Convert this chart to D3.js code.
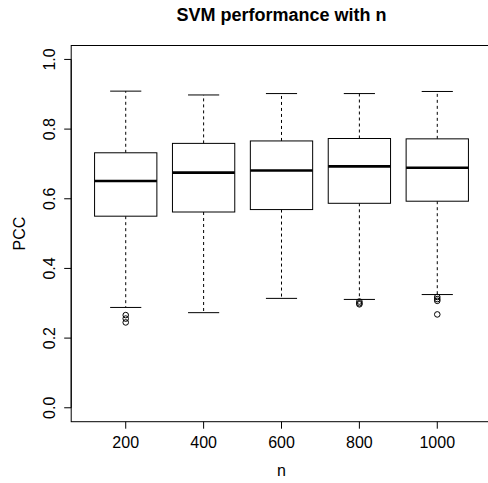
<!DOCTYPE html>
<html>
<head>
<meta charset="utf-8">
<script src="https://cdn.jsdelivr.net/npm/d3@7"></script>
<style>
  body { margin: 0; background: #fff; }
  text { font-family: "Liberation Sans", Arial, sans-serif; fill: #000; }
</style>
</head>
<body>
<script>
// box stats
const groups = ['200', '400', '600', '800', '1000']
const lowerWhisker = [0.288, 0.273, 0.314, 0.311, 0.325]
const q1 = [0.550, 0.562, 0.569, 0.587, 0.593]
const median = [0.651, 0.675, 0.681, 0.693, 0.689]
const q3 = [0.732, 0.759, 0.766, 0.773, 0.772]
const upperWhisker = [0.909, 0.898, 0.902, 0.902, 0.908]
const outliers = [
    [0.266, 0.256, 0.245],
    [],
    [],
    [0.305, 0.300, 0.297],
    [0.318, 0.312, 0.307, 0.268]
]
const yTicks = [0, 0.2, 0.4, 0.6, 0.8, 1.0]

const width = 488
const height = 483

const svg = d3.select('body').append('svg')
    .attr('width', width)
    .attr('height', height)

const x = d3.scaleLinear()
    .domain([0.3, 5.7])
    .range([71.2, 491.8])

const y = d3.scaleLinear()
    .domain([-0.04, 1.04])
    .range([421.7, 45.5])

const unit = x(2) - x(1)
const boxHalf = unit * 0.4
const stapleHalf = boxHalf * 0.5

const data = groups.map((g, i) => ({
    g, i: i + 1,
    lo: lowerWhisker[i], q1: q1[i], med: median[i], q3: q3[i], hi: upperWhisker[i],
    out: outliers[i]
}))

const box = svg.selectAll('.box')
    .data(data)
    .enter().append('g')
    .attr('class', 'box')

// whiskers (dashed)
box.append('line')
    .attr('x1', d => x(d.i)).attr('x2', d => x(d.i))
    .attr('y1', d => y(d.q3)).attr('y2', d => y(d.hi))
    .style('stroke', '#000').style('stroke-dasharray', '3,3')
box.append('line')
    .attr('x1', d => x(d.i)).attr('x2', d => x(d.i))
    .attr('y1', d => y(d.q1)).attr('y2', d => y(d.lo))
    .style('stroke', '#000').style('stroke-dasharray', '3,3')

// staples
box.append('line')
    .attr('x1', d => x(d.i) - stapleHalf).attr('x2', d => x(d.i) + stapleHalf)
    .attr('y1', d => y(d.hi)).attr('y2', d => y(d.hi))
    .style('stroke', '#000')
box.append('line')
    .attr('x1', d => x(d.i) - stapleHalf).attr('x2', d => x(d.i) + stapleHalf)
    .attr('y1', d => y(d.lo)).attr('y2', d => y(d.lo))
    .style('stroke', '#000')

// box
box.append('rect')
    .attr('x', d => x(d.i) - boxHalf)
    .attr('width', boxHalf * 2)
    .attr('y', d => y(d.q3))
    .attr('height', d => y(d.q1) - y(d.q3))
    .style('fill', '#fff')
    .style('stroke', '#000')

// median
box.append('line')
    .attr('x1', d => x(d.i) - boxHalf).attr('x2', d => x(d.i) + boxHalf)
    .attr('y1', d => y(d.med)).attr('y2', d => y(d.med))
    .style('stroke', '#000').style('stroke-width', 2.6)

// outliers
box.selectAll('.out')
    .data(d => d.out.map(v => ({ i: d.i, v })))
    .enter().append('circle')
    .attr('class', 'out')
    .attr('cx', d => x(d.i))
    .attr('cy', d => y(d.v))
    .attr('r', 2.8)
    .style('fill', 'none')
    .style('stroke', '#000')

// frame
svg.append('rect')
    .attr('x', x.range()[0])
    .attr('y', y.range()[1])
    .attr('width', x.range()[1] - x.range()[0])
    .attr('height', y.range()[0] - y.range()[1])
    .style('fill', 'none')
    .style('stroke', '#000')

// x axis
const xAxis = svg.append('g')
    .attr('transform', `translate(0, ${y.range()[0]})`)
xAxis.selectAll('line')
    .data(data)
    .enter().append('line')
    .attr('x1', d => x(d.i)).attr('x2', d => x(d.i))
    .attr('y1', 0).attr('y2', 7)
    .style('stroke', '#000')
xAxis.selectAll('text')
    .data(data)
    .enter().append('text')
    .attr('x', d => x(d.i))
    .attr('y', 26)
    .style('text-anchor', 'middle')
    .style('font-size', '16px')
    .text(d => d.g)

// y axis
const yAxis = svg.append('g')
    .attr('transform', `translate(${x.range()[0]}, 0)`)
yAxis.append('line')
    .attr('x1', 0).attr('x2', 0)
    .attr('y1', y(0)).attr('y2', y(1))
    .style('stroke', '#000')
yAxis.selectAll('.tick')
    .data(yTicks)
    .enter().append('line')
    .attr('class', 'tick')
    .attr('x1', 0).attr('x2', -7)
    .attr('y1', d => y(d)).attr('y2', d => y(d))
    .style('stroke', '#000')
yAxis.selectAll('text')
    .data(yTicks)
    .enter().append('text')
    .attr('transform', d => `translate(-16, ${y(d)}) rotate(-90)`)
    .style('text-anchor', 'middle')
    .style('font-size', '16px')
    .text(d => d3.format('.1f')(d))

// labels
svg.append('text')
    .attr('x', (x.range()[0] + x.range()[1]) / 2)
    .attr('y', 476)
    .style('text-anchor', 'middle')
    .style('font-size', '16px')
    .text('n')

svg.append('text')
    .attr('transform', `translate(25, ${(y.range()[0] + y.range()[1]) / 2}) rotate(-90)`)
    .style('text-anchor', 'middle')
    .style('font-size', '16px')
    .text('PCC')

svg.append('text')
    .attr('x', (x.range()[0] + x.range()[1]) / 2)
    .attr('y', 21)
    .style('text-anchor', 'middle')
    .style('font-size', '18px')
    .style('font-weight', 'bold')
    .text('SVM performance with n')
</script>
</body>
</html>
